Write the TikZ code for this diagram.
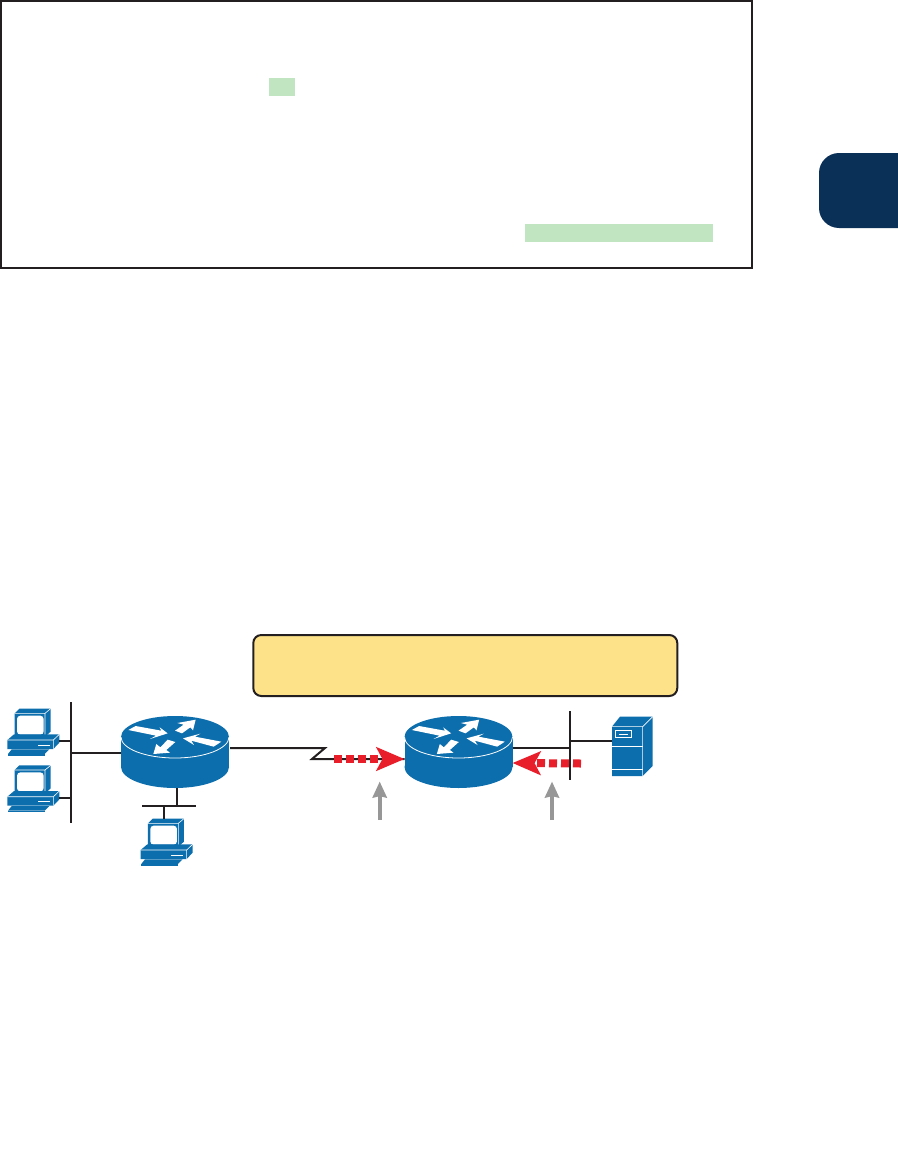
\documentclass[tikz,border=0pt]{standalone}
\usetikzlibrary{arrows.meta}
\definecolor{ciscoblue}{HTML}{0D6EAD}
\definecolor{tabnavy}{HTML}{0A3058}
\definecolor{hlgreen}{HTML}{C1E5C1}
\definecolor{noteyellow}{HTML}{FDE289}
\definecolor{flowred}{HTML}{E81E2A}
\definecolor{pointgray}{HTML}{979797}
\definecolor{inkblack}{HTML}{231F20}
\tikzset{
  wire/.style={draw=inkblack,line width=1.5pt},
  thinwire/.style={draw=inkblack,line width=1.5pt},
  flow/.style={draw=flowred,line width=6pt,dash pattern=on 6pt off 3pt,
    -{Stealth[length=21pt,width=17.5pt,inset=4.5pt]}},
  pointer/.style={draw=pointgray,line width=2.8pt,
    -{Stealth[length=12pt,width=10.5pt,inset=1pt]}},
  icon/.style={fill=ciscoblue},
  iconline/.style={draw=white,line width=.45pt},
  hl/.style={fill=hlgreen,draw=none,inner sep=0pt,minimum width=#1*.75pt,minimum height=13.5pt},
  zoomed/.style={x=.25pt,y=-.25pt},
  router/.pic={
    \fill[icon] (-54,-0.5) rectangle (54,30);
    \fill[icon] (0,30) ellipse[x radius=54,y radius=21];
    \fill[icon] (0,0) ellipse[x radius=54,y radius=21];
    \draw[white,line width=.6pt] (-54,0) arc[start angle=180,end angle=0,x radius=54,y radius=21];
    \begin{scope}[zoomed]\begin{scope}[shift={(-525,-141)}]
      \fill[white] (385,120)--(407,108)--(484,122)--(479,112)--(503,130)--(450,147)--(468,137)--cycle;
      \fill[white] (525,122)--(551,104)--(532,99)--(587,89)--(579,121)--(571,112)--(546,130)--cycle;
      \fill[white] (664,155)--(641,170)--(574,152)--(582,165)--(549,145)--(601,131)--(585,140)--cycle;
      \fill[white] (503,149)--(526,156)--(499,180)--(510,188)--(460,192)--(469,162)--(481,172)--cycle;
    \end{scope}\end{scope}
    \coordinate (-c) at (0,0);
    \coordinate (-west) at (-54,15.5);
    \coordinate (-east) at (54,11);
    \coordinate (-south) at (2,51);
    \coordinate (-eastmid) at (54,26);
    \coordinate (-westmid) at (-54,22);
  },
  pcicon/.pic={
    \begin{scope}[zoomed]
      % monitor
      \fill[icon] (44,70)--(58,56)--(152,56)--(152,125)--(135,140)--(44,140)--cycle;
      \draw[iconline] (44,70)--(135,70)--(152,56) (135,70)--(135,140);
      \fill[white,rounded corners=2.5pt] (51,77) rectangle (131,134);
      % base
      \fill[icon] (22,150)--(42,133)--(178,133)--(178,158)--(160,177)--(22,177)--cycle;
      \draw[iconline] (22,150)--(160,150)--(178,133) (160,150)--(160,177);
      \draw[white,line width=.75pt] (114,165)--(150,165);
      % keyboard
      \fill[icon] (35,178)--(148,178)--(134,192)--(24,192)--cycle;
      \fill[icon] (24,193) rectangle (134,197);
      \coordinate (-east) at (178,153);
      \coordinate (-top) at (92,56);
    \end{scope}
  },
  servericon/.pic={
    \begin{scope}[zoomed]
      \fill[icon] (1146,80)--(1170,50)--(1268,50)--(1268,198)--(1238,228)--(1146,228)--cycle;
      \draw[iconline] (1146,80)--(1238,80)--(1268,50) (1238,80)--(1238,228);
      \draw[white,line width=.6pt] (1146,139)--(1238,139) (1146,208)--(1238,208);
      \draw[white,line width=.6pt] (1157,92) rectangle (1205,113);
      \draw[white,line width=.6pt] (1166,103)--(1195,103);
      \coordinate (-west) at (1145,122);
    \end{scope}
  }
}
\begin{document}
\begin{tikzpicture}[x=.75pt,y=-.75pt]
\useasboundingbox (0,0) rectangle (897,1167);

% top listing panel and highlights
\node[draw=inkblack,line width=1.5pt,inner sep=0pt,minimum width=563.25pt,minimum height=200.25pt] (panel) at (376.5,134) {};
\node[hl=26] (hlone) at (282,87) {};
\node[hl=188] (hltwo) at (619,233) {};

% chapter tab
\fill[tabnavy,rounded corners=15pt] (819,153) rectangle (930,228);

% note box
\node[draw=inkblack,line width=1.5pt,fill=noteyellow,rounded corners=6pt,inner sep=0pt,minimum width=318pt,minimum height=45.75pt] (note) at (465.3,665.5) {};

% icons
\pic (pca) at (0,690) {pcicon};
\pic (pcb) at (0,746.7) {pcicon};
\pic (pcc) at (133.3,800) {pcicon};
\pic (ra) at (175,737) {router};
\pic (rb) at (458.5,737) {router};
\pic (srv) at (230,700) {servericon};

% LAN buses
\coordinate (busaT) at (71,702);
\coordinate (busaB) at (71,823);
\coordinate (buscL) at (142,806);
\coordinate (buscR) at (196,806);
\coordinate (busbT) at (570,711);
\coordinate (busbB) at (570,780);
\coordinate (zigA) at (325,748);
\coordinate (zigB) at (312,759);
\coordinate (serialA) at (230,748);
\coordinate (tapc) at (164,806);
\coordinate (tapd) at (177,806);

\draw[wire] (busaT) -- (busaB);
\draw[wire] (buscL) -- (buscR);
\draw[wire] (busbT) -- (busbB);
\draw[thinwire] (pca-east) -- (pca-east -| busaT);
\draw[thinwire] (pcb-east) -- (pcb-east -| busaT);
\draw[thinwire] (ra-west) -- (ra-west -| busaT);
\draw[thinwire] (tapd) -- (ra-south);
\draw[thinwire] (tapc) -- (pcc-top -| tapc);
\draw[thinwire] (srv-west) -- (srv-west -| busbT);
\draw[thinwire] (rb-east) -- (rb-east -| busbT);
\draw[thinwire] (serialA) -- (zigA) -- (zigB) -- (rb-westmid);

% packet flows
\coordinate (flowa) at (334,759);
\coordinate (flowb) at (581,763.5);
\draw[flow] (flowa) -- (rb-westmid);
\draw[flow] (flowb) -- (rb-eastmid);

% gray pointers
\coordinate (ptaS) at (379.7,820);
\coordinate (ptaT) at (379.7,781.5);
\coordinate (ptbS) at (552,820);
\coordinate (ptbT) at (552,781.5);
\draw[pointer] (ptaS) -- (ptaT);
\draw[pointer] (ptbS) -- (ptbT);
\end{tikzpicture}
\end{document}
